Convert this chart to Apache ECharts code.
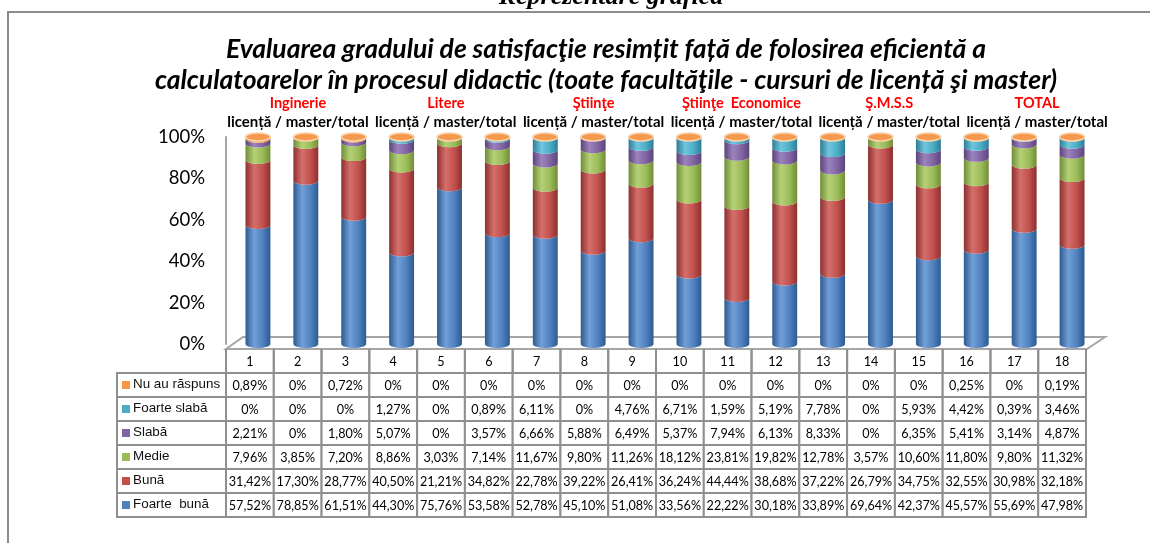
<!DOCTYPE html>
<html>
<head>
<meta charset="utf-8">
<script src="https://cdn.jsdelivr.net/npm/echarts/dist/echarts.min.js"></script>
<style>
html,body{margin:0;padding:0;background:#fff;}
#chart{width:1150px;height:543px;}
</style>
</head>
<body>
<div id="chart"></div>
<script>
var columns = ['1','2','3','4','5','6','7','8','9','10','11','12','13','14','15','16','17','18'];
var faculties = ['Inginerie','Litere','Ştiinţe','Ştiinţe  Economice','Ş.M.S.S','TOTAL'];
var groupSub = 'licență / master/total';

var nuAuRaspuns = [0.89,0,0.72,0,0,0,0,0,0,0,0,0,0,0,0,0.25,0,0.19];
var foarteSlaba = [0,0,0,1.27,0,0.89,6.11,0,4.76,6.71,1.59,5.19,7.78,0,5.93,4.42,0.39,3.46];
var slaba = [2.21,0,1.80,5.07,0,3.57,6.66,5.88,6.49,5.37,7.94,6.13,8.33,0,6.35,5.41,3.14,4.87];
var medie = [7.96,3.85,7.20,8.86,3.03,7.14,11.67,9.80,11.26,18.12,23.81,19.82,12.78,3.57,10.60,11.80,9.80,11.32];
var buna = [31.42,17.30,28.77,40.50,21.21,34.82,22.78,39.22,26.41,36.24,44.44,38.68,37.22,26.79,34.75,32.55,30.98,32.18];
var foarteBuna = [57.52,78.85,61.51,44.30,75.76,53.58,52.78,45.10,51.08,33.56,22.22,30.18,33.89,69.64,42.37,45.57,55.69,47.98];

// table rows, top to bottom
var rowNames = ['Nu au răspuns','Foarte slabă','Slabă','Medie','Bună','Foarte  bună'];
var rowValues = [nuAuRaspuns, foarteSlaba, slaba, medie, buna, foarteBuna];
// colour sets: base, light, dark
var rowColors = [
    ['#F79646','#FBB377','#C46A22'],
    ['#4BACC6','#70C6DE','#2C7D93'],
    ['#8064A2','#9C83BD','#5A4479'],
    ['#9BBB59','#B5D176','#718C38'],
    ['#C0504D','#D56F6C','#8C302E'],
    ['#4F81BD','#729FD8','#2D5A90']
];

function fmt(v){
    if(v === 0){
        return '0%';
    }
    return v.toFixed(2).replace('.', ',') + '%';
}

function cylFill(c){
    return {
        type:'linear', x:0, y:0, x2:1, y2:0,
        colorStops:[
            {offset:0, color:c[2]},
            {offset:0.35, color:c[1]},
            {offset:0.7, color:c[0]},
            {offset:1, color:c[2]}
        ]
    };
}

function cylinderItem(colorSet){
    return function(params, api){
        var x = api.value(0), lo = api.value(1), hi = api.value(2);
        if(hi - lo <= 0){
            return;
        }
        var pLo = api.coord([x, lo]);
        var pHi = api.coord([x, hi]);
        var r = api.size([1, 0])[0] * 0.26;
        var ry = 4;
        var cx = pLo[0];
        var d = 'M' + (cx - r) + ',' + pHi[1] +
            'L' + (cx - r) + ',' + pLo[1] +
            'A' + r + ',' + ry + ',0,0,0,' + (cx + r) + ',' + pLo[1] +
            'L' + (cx + r) + ',' + pHi[1] +
            'A' + r + ',' + ry + ',0,0,1,' + (cx - r) + ',' + pHi[1] + 'Z';
        return {type:'path', shape:{pathData:d}, style:{fill:cylFill(colorSet)}};
    };
}

function capItem(params, api){
    var p = api.coord([api.value(0), api.value(1)]);
    var r = api.size([1, 0])[0] * 0.26;
    var ry = 4;
    var d = 'M' + (p[0] - r) + ',' + p[1] +
        'A' + r + ',' + ry + ',0,1,0,' + (p[0] + r) + ',' + p[1] +
        'A' + r + ',' + ry + ',0,1,0,' + (p[0] - r) + ',' + p[1] + 'Z';
    return {type:'path', shape:{pathData:d}, style:{fill:'#F39A4E', stroke:'#FAD2AE', lineWidth:1.5}};
}

// stacked cylinders, bottom series first
var series = [];
var base = columns.map(function(){ return 0; });
for(var k = rowValues.length - 1; k >= 0; k--){
    var vals = rowValues[k];
    var data = [];
    for(var i = 0; i < columns.length; i++){
        data.push([i, base[i], base[i] + vals[i]]);
        base[i] += vals[i];
    }
    series.push({
        name:rowNames[k], type:'custom', xAxisIndex:0, yAxisIndex:0,
        renderItem:cylinderItem(rowColors[k]), data:data, z:3, silent:true
    });
}
series.push({
    type:'custom', xAxisIndex:0, yAxisIndex:0, renderItem:capItem, z:4, silent:true,
    data:base.map(function(t, i){ return [i, t]; })
});

// data table
var cellData = [], cellText = [];
for(var c = 0; c < columns.length; c++){
    cellData.push([c, 0]);
    cellText.push(columns[c]);
    for(var rr = 0; rr < rowValues.length; rr++){
        cellData.push([c, rr + 1]);
        cellText.push(fmt(rowValues[rr][c]));
    }
}

function cellItem(params, api){
    var c = api.value(0), r = api.value(1);
    var p = api.coord([c, r]);
    var s = api.size([1, 1]);
    var x0 = p[0] - s[0] / 2, y0 = p[1] - s[1] / 2;
    var line = {stroke:'#8f8f8f', lineWidth:2};
    var children = [];
    if(r === 0){
        children.push({type:'line', shape:{x1:x0, y1:y0, x2:x0, y2:y0 + s[1]}, style:line});
        children.push({type:'line', shape:{x1:x0 + s[0], y1:y0, x2:x0 + s[0], y2:y0 + s[1]}, style:line});
    }else{
        children.push({type:'rect', shape:{x:x0, y:y0, width:s[0], height:s[1]}, style:{fill:'#fff', stroke:'#8f8f8f', lineWidth:2}});
    }
    children.push({type:'text', style:{
        text:cellText[params.dataIndex], x:p[0], y:p[1] + 1,
        align:'center', verticalAlign:'middle', font:'12.6px Lato', fill:'#000'
    }});
    return {type:'group', children:children};
}

var legendData = rowNames.map(function(n, i){ return [0, i + 1]; });

function legendItem(params, api){
    var r = api.value(1);
    var p = api.coord([0, r]);
    var s = api.size([1, 1]);
    var x0 = p[0] - s[0] / 2, y0 = p[1] - s[1] / 2;
    return {type:'group', children:[
        {type:'rect', shape:{x:x0, y:y0, width:s[0], height:s[1]}, style:{fill:'#fff', stroke:'#8f8f8f', lineWidth:2}},
        {type:'rect', shape:{x:x0 + 5, y:p[1] - 4, width:8, height:8}, style:{fill:rowColors[r - 1][0]}},
        {type:'text', style:{
            text:rowNames[r - 1], x:x0 + 16, y:p[1] - 1,
            align:'left', verticalAlign:'middle', font:'13.4px "Liberation Sans"', fill:'#111'
        }}
    ]};
}

series.push({type:'custom', xAxisIndex:1, yAxisIndex:1, renderItem:cellItem, data:cellData, z:5, silent:true});
series.push({type:'custom', xAxisIndex:2, yAxisIndex:2, renderItem:legendItem, data:legendData, z:5, silent:true});

var tableRows = [''].concat(rowNames);

var chart = echarts.init(document.getElementById('chart'));
chart.setOption({
    animation:false,
    backgroundColor:'#fff',
    title:{
        text:'Evaluarea gradului de satisfacţie resimțit față de folosirea eficientă a\ncalculatoarelor în procesul didactic (toate facultăţile - cursuri de licență şi master)',
        left:601, top:29, textAlign:'center',
        textStyle:{fontFamily:'Lato', fontStyle:'italic', fontWeight:'bold', fontSize:26.5, lineHeight:31, color:'#000'}
    },
    graphic:[
        {type:'rect', z:0, shape:{x:8, y:12, width:1200, height:600}, style:{fill:'none', stroke:'#8c8c8c', lineWidth:2}},
        {type:'text', z:0, style:{text:'Reprezentare grafică', x:611, y:10, align:'center', verticalAlign:'bottom',
            font:'italic bold 26px "Liberation Serif"', fill:'#000'}},
        {type:'polygon', z:1, shape:{points:[[226,349],[243,337],[1105,337],[1087,349]]},
            style:{fill:'#fff', stroke:'#a6a6a6', lineWidth:2}}
    ],
    grid:[
        {left:234, right:54, top:137, bottom:199},
        {left:226, right:64, top:349, bottom:26},
        {left:117, right:924, top:349, bottom:26},
        {left:224, right:39, top:137, bottom:199}
    ],
    xAxis:[
        {gridIndex:0, type:'category', data:columns, show:false},
        {gridIndex:1, type:'category', data:columns, show:false},
        {gridIndex:2, type:'category', data:['legend'], show:false},
        {gridIndex:3, type:'category', data:faculties, position:'top',
            axisLine:{show:false}, axisTick:{show:false},
            axisLabel:{
                interval:0, margin:6,
                formatter:function(v){ return '{r|' + v + '}\n{b|' + groupSub + '}'; },
                rich:{
                    r:{color:'#ff0000', fontWeight:'bold', fontSize:14.5, fontFamily:'Lato', lineHeight:19},
                    b:{color:'#000', fontWeight:'bold', fontSize:15, fontFamily:'Lato', lineHeight:18}
                }
            }
        }
    ],
    yAxis:[
        {gridIndex:0, type:'value', min:0, max:100, interval:20, offset:8,
            axisLine:{show:true, lineStyle:{color:'#a6a6a6', width:2}},
            axisTick:{show:false}, splitLine:{show:false},
            axisLabel:{formatter:'{value}%', fontFamily:'Lato', fontSize:18.5, color:'#000', margin:21, padding:[12,0,0,0]}
        },
        {gridIndex:1, type:'category', data:tableRows, inverse:true, show:false},
        {gridIndex:2, type:'category', data:tableRows, inverse:true, show:false},
        {gridIndex:3, type:'value', show:false}
    ],
    series:series
});
</script>
</body>
</html>
